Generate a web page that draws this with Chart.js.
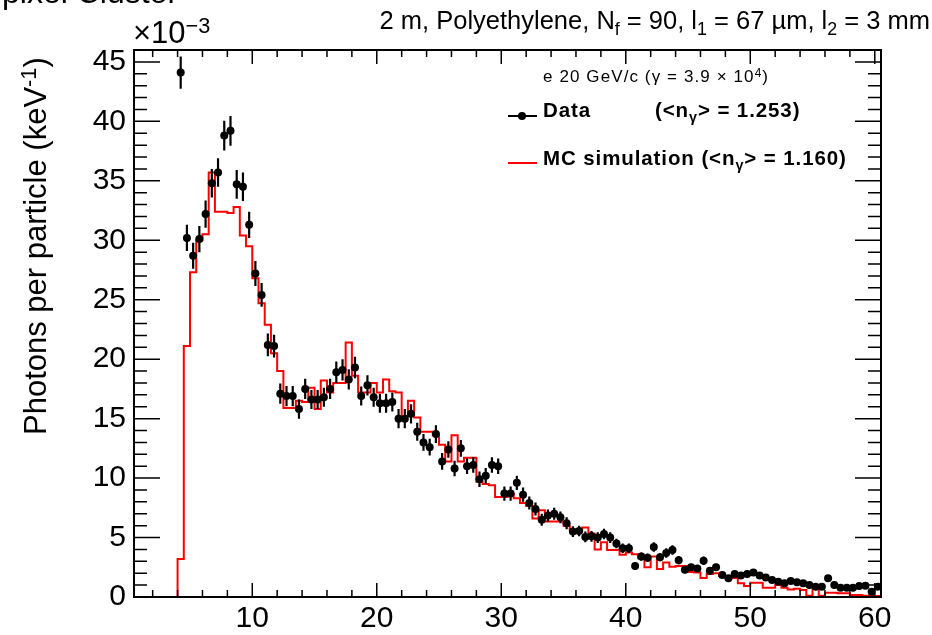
<!DOCTYPE html>
<html>
<head>
<meta charset="utf-8">
<script src="https://cdn.jsdelivr.net/npm/chart.js@4.4.1/dist/chart.umd.min.js"></script>
<style>
  body { margin: 0; background: #fff; }
  #wrap { position: relative; width: 932px; height: 635px; overflow: hidden;
          font-family: "Liberation Sans", Arial, sans-serif; color: #000; }
  #wrap canvas { position: absolute; left: 0; top: 0; }
  .txt { position: absolute; white-space: nowrap; line-height: 1; }
  .b { font-weight: bold; font-size: 20.5px; letter-spacing: 0.9px; }
  .lo { font-size: 70%; position: relative; top: 0.35em; }
  .hi { font-size: 70%; position: relative; top: -0.45em; }
  .mark { position: absolute; }
</style>
</head>
<body>
<div id="wrap">
  <canvas id="myChart" width="932" height="635"></canvas>

  <div class="txt" style="left:2px; top:-24px; font-size:32px;">pixel Cluster</div>
  <div class="txt" style="right:2px; top:8px; font-size:25.5px;">2 m, Polyethylene, N<span class="lo">f</span> = 90, l<span class="lo">1</span> = 67 µm, l<span class="lo">2</span> = 3 mm</div>
  <div class="txt" style="left:133px; top:17px; font-size:31px;">×10<span class="hi">−3</span></div>
  <div class="txt" style="left:20px; top:435px; font-size:31px; transform:rotate(-90deg); transform-origin:0 0;">Photons per particle (keV<span class="hi">-1</span>)</div>

  <div class="txt" style="left:543px; top:68px; font-size:17px; letter-spacing:1.1px;">e 20 GeV/c (γ = 3.9 × 10<span class="hi">4</span>)</div>
  <div class="mark" style="left:508px; top:115px; width:29px; height:2px; background:#000;"></div>
  <div class="mark" style="left:518px; top:112px; width:8px; height:8px; border-radius:50%; background:#000;"></div>
  <div class="txt b" style="left:543px; top:100px;">Data</div>
  <div class="txt b" style="left:655px; top:100px;">(&lt;n<span class="lo">γ</span>&gt; = 1.253)</div>
  <div class="mark" style="left:508px; top:162px; width:29px; height:2px; background:#ff0000;"></div>
  <div class="txt b" style="left:543px; top:148px;">MC simulation (&lt;n<span class="lo">γ</span>&gt; = 1.160)</div>
</div>

<script>
// photon energy bins: 0.5 keV wide, first filled bin starts at 4 keV
const binStart = 4.0;
const binWidth = 0.5;
const xMin = 0.5;
const xMax = 60.5;

// measured photons per particle per keV, in units of 1e-3 (bin centres 4.25 ... 60.25)
const dataValues = [
  44.1, 30.2, 28.7, 30.1, 32.2, 34.8, 35.7, 38.8, 39.2, 34.7,
  34.5, 31.3, 27.2, 25.4, 21.2, 21.1, 17.1, 16.9, 16.9, 15.8,
  17.5, 16.6, 16.6, 16.8, 17.5, 18.9, 19.1, 18.3, 19.3, 16.9,
  17.8, 16.8, 16.3, 16.3, 16.4, 15.0, 15.0, 15.4, 13.9, 13.0,
  12.6, 13.7, 11.4, 12.4, 10.8, 12.5, 11.0, 11.1, 9.9, 10.2,
  11.1, 11.0, 8.7, 8.7, 9.6, 8.6, 7.9, 7.4, 6.5, 6.85,
  7.0, 6.7, 6.2, 5.5, 5.55, 5.05, 5.1, 5.0, 5.3, 5.0,
  4.5, 4.1, 4.1, 2.6, 3.4, 3.3, 4.2, 3.35, 3.7, 3.95,
  3.1, 2.3, 2.5, 2.4, 3.05, 2.2, 2.5, 1.85, 1.57, 1.93,
  1.8, 1.93, 2.07, 1.8, 1.65, 1.43, 1.29, 1.15, 1.34, 1.23,
  1.15, 1.0, 0.87, 0.87, 1.57, 1.0, 0.78, 0.78, 0.78, 0.92,
  0.95, 0.45, 0.87
];
const dataErrors = [
  1.35, 1.1, 1.1, 1.1, 1.15, 1.2, 1.2, 1.25, 1.25, 1.2,
  1.2, 1.1, 1.05, 1.0, 0.95, 0.95, 0.85, 0.85, 0.85, 0.8,
  0.85, 0.8, 0.8, 0.8, 0.85, 0.9, 0.9, 0.85, 0.9, 0.8,
  0.85, 0.8, 0.8, 0.8, 0.8, 0.8, 0.8, 0.8, 0.75, 0.7,
  0.7, 0.75, 0.7, 0.7, 0.65, 0.7, 0.65, 0.65, 0.65, 0.65,
  0.65, 0.65, 0.6, 0.6, 0.6, 0.6, 0.55, 0.55, 0.5, 0.5,
  0.5, 0.5, 0.5, 0.45, 0.45, 0.45, 0.45, 0.45, 0.45, 0.45,
  0.4, 0.4, 0.4, 0.3, 0.35, 0.35, 0.4, 0.35, 0.4, 0.4,
  0.35, 0.3, 0.3, 0.3, 0.35, 0.3, 0.3, 0.25, 0.25, 0.25,
  0.25, 0.25, 0.25, 0.25, 0.25, 0.25, 0.25, 0.25, 0.25, 0.25,
  0.2, 0.2, 0.2, 0.2, 0.2, 0.2, 0.2, 0.2, 0.2, 0.2,
  0.2, 0.15, 0.2
];
// MC histogram contents, one per bin (low edges 4.0 ... 60.0)
const mcValues = [
  3.2, 21.1, 27.3, 30.0, 30.5, 35.7, 32.4, 32.4, 32.3, 32.8,
  30.4, 29.5, 26.8, 24.7, 22.9, 20.5, 19.0, 15.9, 15.9, 16.5,
  16.4, 17.6, 15.8, 18.2, 17.2, 18.0, 18.0, 21.4, 18.6, 17.2,
  17.2, 18.0, 17.2, 18.3, 17.3, 17.2, 15.2, 16.5, 15.1, 13.9,
  13.9, 13.6, 12.8, 11.4, 13.6, 11.4, 11.7, 11.7, 9.7, 9.5,
  9.4, 8.4, 8.4, 8.65, 8.3, 7.9, 7.65, 6.6, 7.3, 6.35,
  6.35, 6.35, 6.0, 5.65, 5.5, 5.85, 5.35, 4.0, 4.6, 3.95,
  3.95, 3.55, 3.75, 3.6, 3.25, 2.5, 3.4, 2.35, 2.9, 2.55,
  2.6, 2.6, 2.1, 2.07, 1.6, 1.93, 2.0, 1.76, 1.57, 1.6,
  1.15, 0.92, 1.2, 1.2, 0.78, 0.78, 1.0, 0.78, 0.64, 0.7,
  0.59, 0.11, 0.7, 0.11, 0.36, 0.36, 0.31, 0.31, 0.17, 0.17,
  0.11, 0.11, 0.08
];

const xTickLabels = [10, 20, 30, 40, 50, 60];
const yTickLabels = [0, 5, 10, 15, 20, 25, 30, 35, 40, 45];

const dataPoints = dataValues.map((v, i) => ({ x: binStart + binWidth * (i + 0.5), y: v }));
const mcPoints = [{ x: xMin, y: 0 }]
  .concat(mcValues.map((v, i) => ({ x: binStart + binWidth * i, y: v })))
  .concat([{ x: binStart + binWidth * mcValues.length, y: mcValues[mcValues.length - 1] }]);

const fontFamily = '"Liberation Sans", Arial, sans-serif';

// vertical error bars on the data points
const errorBars = {
  id: 'errorBars',
  afterDatasetsDraw(chart) {
    const { ctx, scales: { x, y } } = chart;
    ctx.save();
    ctx.strokeStyle = '#000';
    ctx.lineWidth = 2.2;
    ctx.beginPath();
    dataPoints.forEach((p, i) => {
      const px = x.getPixelForValue(p.x);
      ctx.moveTo(px, y.getPixelForValue(p.y - dataErrors[i]));
      ctx.lineTo(px, y.getPixelForValue(p.y + dataErrors[i]));
    });
    ctx.stroke();
    ctx.restore();
  }
};

// ROOT style frame with inward ticks on all four sides
const frameTicks = {
  id: 'frameTicks',
  afterDraw(chart) {
    const { ctx, chartArea: a, scales: { x, y } } = chart;
    ctx.save();
    ctx.strokeStyle = '#000';
    ctx.lineWidth = 1.5;
    ctx.beginPath();
    for (let v = 2; v <= 60; v += 2) {
      const px = x.getPixelForValue(v);
      const len = v % 10 === 0 ? 14 : 7;
      ctx.moveTo(px, a.bottom); ctx.lineTo(px, a.bottom - len);
      ctx.moveTo(px, a.top); ctx.lineTo(px, a.top + len);
    }
    for (let v = 0; v <= 46; v += 1) {
      const py = y.getPixelForValue(v);
      const len = v % 5 === 0 ? 26 : 13;
      ctx.moveTo(a.left, py); ctx.lineTo(a.left + len, py);
      ctx.moveTo(a.right, py); ctx.lineTo(a.right - len, py);
    }
    ctx.stroke();
    ctx.lineWidth = 2;
    ctx.strokeRect(a.left, a.top, a.right - a.left, a.bottom - a.top);
    ctx.restore();
  }
};

new Chart(document.getElementById('myChart'), {
  data: {
    datasets: [
      {
        type: 'scatter',
        label: 'Data',
        data: dataPoints,
        pointRadius: 4,
        pointBackgroundColor: '#000',
        pointBorderWidth: 0,
        order: 0
      },
      {
        type: 'line',
        label: 'MC simulation',
        data: mcPoints,
        stepped: 'before',
        borderColor: '#ff0000',
        borderWidth: 2,
        pointRadius: 0,
        fill: false,
        clip: 4,
        order: 1
      }
    ]
  },
  options: {
    responsive: false,
    animation: false,
    devicePixelRatio: 1,
    layout: { padding: { left: 0, right: 51, top: 50, bottom: 0 } },
    plugins: { legend: { display: false }, tooltip: { enabled: false } },
    scales: {
      x: {
        type: 'linear',
        min: xMin,
        max: xMax,
        grid: { display: false, drawTicks: false },
        border: { display: false },
        afterBuildTicks: s => { s.ticks = xTickLabels.map(v => ({ value: v })); },
        afterFit: s => { s.height = 38; },
        ticks: { color: '#000', padding: 4, maxRotation: 0, autoSkip: false,
                 font: { family: fontFamily, size: 30 } }
      },
      y: {
        type: 'linear',
        min: 0,
        max: 46,
        grid: { display: false, drawTicks: false },
        border: { display: false },
        afterBuildTicks: s => { s.ticks = yTickLabels.map(v => ({ value: v })); },
        afterFit: s => { s.width = 134; },
        ticks: { color: '#000', padding: 8, autoSkip: false,
                 font: { family: fontFamily, size: 30 } }
      }
    }
  },
  plugins: [errorBars, frameTicks]
});
</script>
</body>
</html>
